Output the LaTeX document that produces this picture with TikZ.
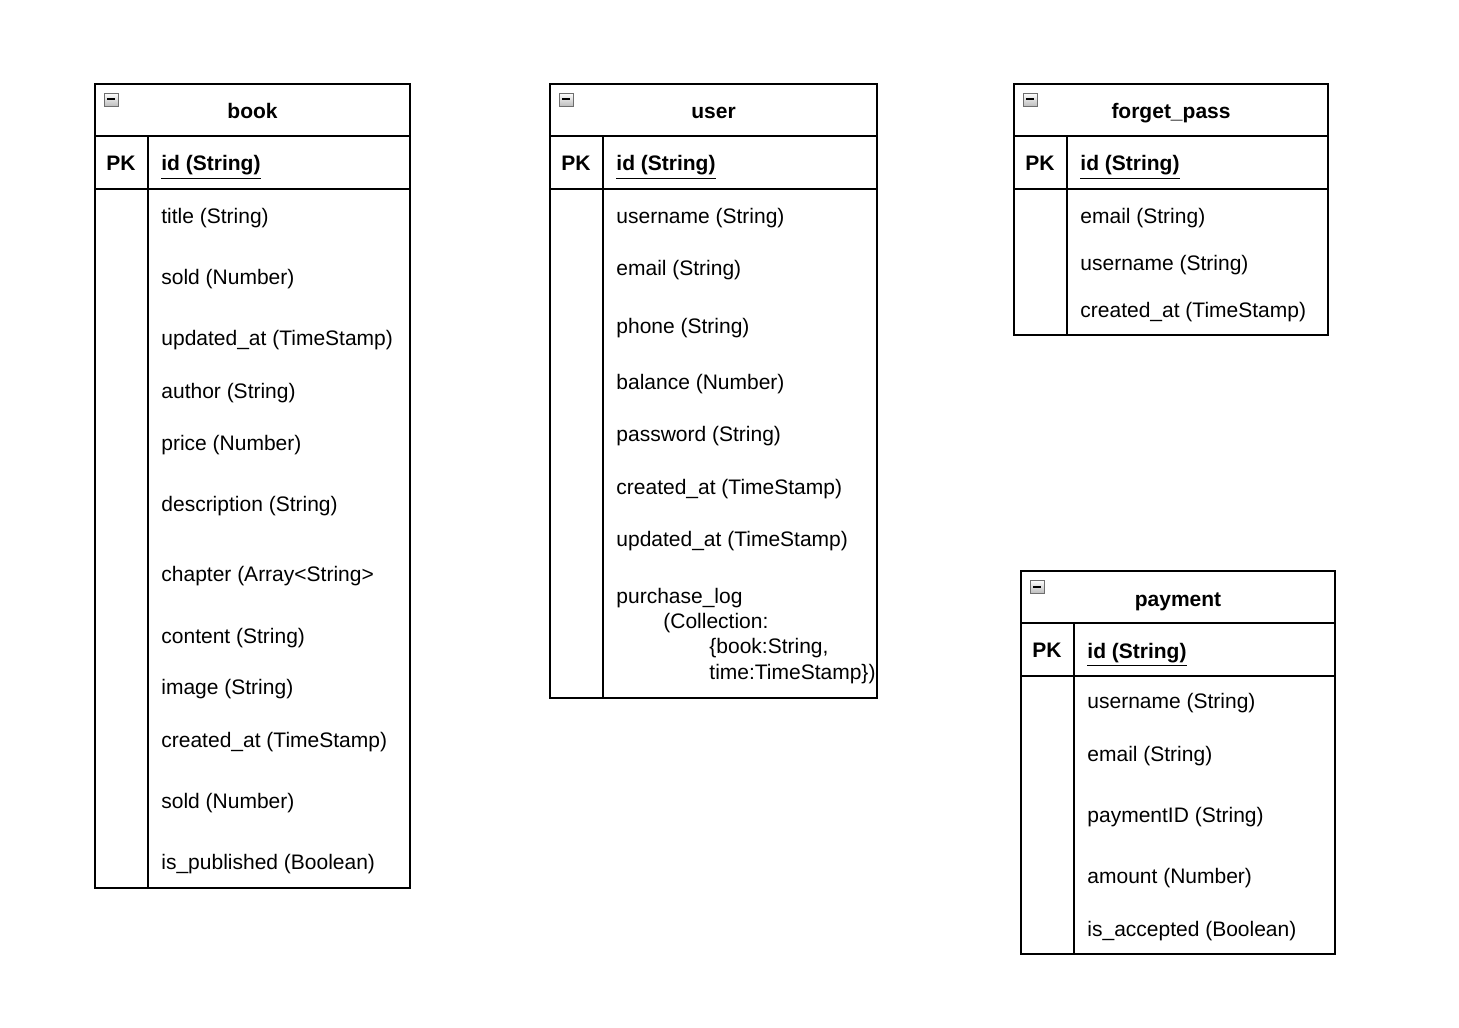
\documentclass[tikz,border=0pt]{standalone}
\usepackage{fontspec}
\setmainfont{Liberation Sans}
\usepackage{tikz}
\usetikzlibrary{positioning}
\tikzstyle{diagram} = [x = 0.5pt, y = -0.5pt]
\definecolor{iconGray}{RGB}{190,190,190}
\definecolor{iconEdge}{RGB}{110,110,110}
\tikzstyle{tableLine} = [color=black, line width=1pt]
\tikzstyle{keyLine} = [color=black, line width=1.3pt]
\tikzstyle{baseText} = [inner sep=0pt, text height=0.72em, text depth=0.22em]
\tikzstyle{titleText} = [baseText, font=\fontsize{10.5}{12}\selectfont\bfseries]
\tikzstyle{pkText} = [baseText, font=\fontsize{10.5}{12}\selectfont\bfseries]
\tikzstyle{keyText} = [baseText, font=\fontsize{10.5}{12}\selectfont\bfseries, anchor=west]
\tikzstyle{fieldText} = [baseText, font=\fontsize{10.5}{12}\selectfont, anchor=west]
\tikzstyle{iconStyle} = [draw=iconEdge, top color=white, bottom color=iconGray, line width=0.4pt]
% #1 name, #2 left, #3 top, #4 right, #5 bottom, #6 title
\newcommand{\entityTable}[6]{
  \draw [tableLine] (#2,#3) rectangle (#4,#5);
  \draw [tableLine] (#2,#3 + 52) -- (#4,#3 + 52);
  \draw [keyLine] (#2,#3 + 105) -- (#4,#3 + 105);
  \draw [tableLine] (#2 + 53,#3 + 52) -- (#2 + 53,#5);
  \shade [iconStyle] (#2 + 9,#3 + 9) rectangle + (14,13);
  \draw [line width=1pt] (#2 + 12,#3 + 15.5) -- + (8,0);
  \node [titleText] (#1Title) at ({(#2 + #4) / 2},#3 + 30) {#6};
  \node [pkText] (#1PK) at (#2 + 26,#3 + 81) {PK};
  \node [keyText] (#1Key) at (#2 + 66,#3 + 82) {\underline{id (String)}};
}

\begin{document}
\begin{tikzpicture}[diagram]
  \useasboundingbox (0,0) rectangle (1459,1027);

  % book
  \entityTable{book}{95}{84}{410}{888}{book}
  \foreach \y/\txt [count=\i] in {218/title (String), 279/sold (Number),
      340/updated\_at (TimeStamp), 393/author (String), 445/price (Number),
      506/description (String), 576/chapter (Array<String>, 638/content (String),
      689/image (String), 742/created\_at (TimeStamp), 803/sold (Number),
      864/is\_published (Boolean)}
    \node [fieldText] (book\i) at (161,\y) {\txt};

  % user
  \entityTable{user}{550}{84}{877}{698}{user}
  \foreach \y/\txt [count=\i] in {218/username (String), 270/email (String),
      328/phone (String), 384/balance (Number), 436/password (String),
      489/created\_at (TimeStamp), 541/updated\_at (TimeStamp)}
    \node [fieldText] (user\i) at (616,\y) {\txt};
  \node [fieldText] (userLog) at (616,598) {purchase\_log};
  \node [fieldText] (userLogA) at (663,623) {(Collection:};
  \node [fieldText] (userLogB) at (709,648) {\{book:String,};
  \node [fieldText] (userLogC) at (709,674) {time:TimeStamp\})};

  % forget_pass
  \entityTable{forget}{1014}{84}{1328}{335}{forget\_pass}
  \foreach \y/\txt [count=\i] in {218/email (String), 265/username (String),
      312/created\_at (TimeStamp)}
    \node [fieldText] (forget\i) at (1080,\y) {\txt};

  % payment
  \entityTable{payment}{1021}{571}{1335}{954}{payment}
  \foreach \y/\txt [count=\i] in {703/username (String), 756/email (String),
      817/paymentID (String), 878/amount (Number), 931/is\_accepted (Boolean)}
    \node [fieldText] (payment\i) at (1087,\y) {\txt};
\end{tikzpicture}
\end{document}
